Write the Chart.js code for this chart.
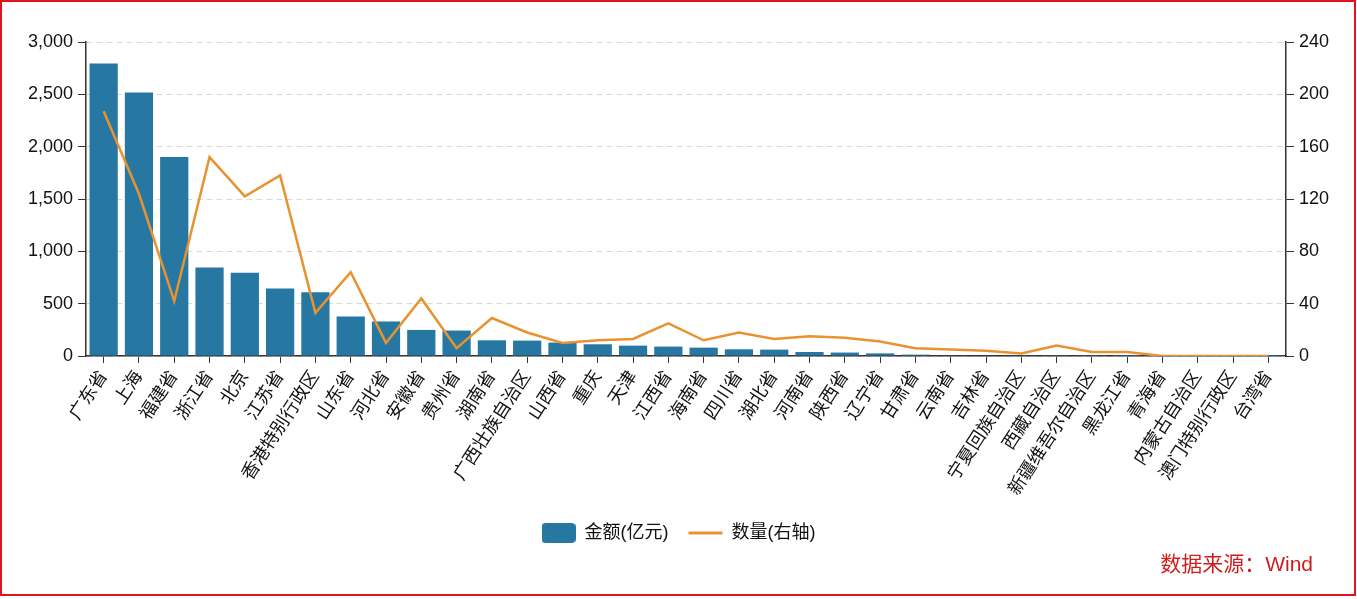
<!DOCTYPE html>
<html>
<head>
<meta charset="utf-8">
<script src="https://cdn.jsdelivr.net/npm/chart.js@4/dist/chart.umd.min.js"></script>
<style>
html,body{margin:0;padding:0;background:#fff;}
#wrap{position:relative;width:1357px;height:599px;overflow:hidden;}
#c{position:absolute;left:0;top:0;}
#frame{position:absolute;left:0;top:0;width:1356px;height:596px;box-sizing:border-box;border:2px solid #e0141c;pointer-events:none;}
#src{position:absolute;right:44px;top:547px;font-family:"Liberation Sans","Noto Sans CJK SC",sans-serif;font-size:21px;color:#cc1f1f;}
</style>
</head>
<body>
<div id="wrap">
<canvas id="c" width="1357" height="599"></canvas>
<div id="frame"></div>
<div id="src">数据来源：Wind</div>
</div>
<script>
const categories = ["广东省","上海","福建省","浙江省","北京","江苏省","香港特别行政区","山东省","河北省","安徽省","贵州省","湖南省","广西壮族自治区","山西省","重庆","天津","江西省","海南省","四川省","湖北省","河南省","陕西省","辽宁省","甘肃省","云南省","吉林省","宁夏回族自治区","西藏自治区","新疆维吾尔自治区","黑龙江省","青海省","内蒙古自治区","澳门特别行政区","台湾省"];
const amounts = [2795,2518,1902,846,795,645,610,377,329,249,243,150,147,128,112,99,90,80,64,61,38,33,25,13,6,5,3,2,2,1,1,0.5,0.3,0.2];
const counts = [187,124,42,152,122,138,33,64,10,44,6,29,18,10,12,13,25,12,18,13,15,14,11,6,5,4,2,8,3,3,0,0,0,0];
const leftTicks = [0,500,1000,1500,2000,2500,3000];
const rightTicks = [0,40,80,120,160,200,240];

const FONT = '"Liberation Sans","Noto Sans CJK SC",sans-serif';
const BAR = '#2777a3';
const LINE = '#e8932f';

// legend swatch for bars
const sw = document.createElement('canvas');
sw.width = 34; sw.height = 20;
(function(){const g=sw.getContext('2d');g.fillStyle=BAR;g.beginPath();
 const r=4,w=34,h=20;g.moveTo(r,0);g.lineTo(w-r,0);g.quadraticCurveTo(w,0,w,r);g.lineTo(w,h-r);g.quadraticCurveTo(w,h,w-r,h);g.lineTo(r,h);g.quadraticCurveTo(0,h,0,h-r);g.lineTo(0,r);g.quadraticCurveTo(0,0,r,0);g.fill();})();

Chart.defaults.font.family = FONT;
Chart.defaults.color = '#111';

new Chart(document.getElementById('c'), {
  data: {
    labels: categories,
    datasets: [
      {type:'line', label:'数量(右轴)', data: counts, yAxisID:'y1', borderColor: LINE, backgroundColor: LINE, borderWidth: 2.5, pointRadius: 0, tension: 0, order: 0},
      {type:'bar', label:'金额(亿元)', data: amounts, yAxisID:'y', backgroundColor: BAR, barPercentage: 1, categoryPercentage: 0.8, order: 1}
    ]
  },
  options: {
    responsive: false,
    animation: false,
    layout: {padding: {top: 42, left: 0, right: 0, bottom: 47}},
    plugins: {
      tooltip: {enabled:false},
      legend: {
        position: 'bottom',
        reverse: true,
        labels: {
          usePointStyle: true,
          pointStyleWidth: 34,
          padding: 20,
          font: {size: 18, family: FONT},
          color: '#111',
          generateLabels(chart){
            const items = Chart.defaults.plugins.legend.labels.generateLabels(chart);
            items.forEach(it=>{
              if (it.datasetIndex===1){ it.pointStyle = sw; }
              else { it.pointStyle='line'; it.lineWidth=3; it.strokeStyle=LINE; }
            });
            return items;
          }
        }
      }
    },
    scales: {
      x: {
        offset: true,
        grid: {offset:false, drawOnChartArea:false, drawTicks:true, tickLength:7, color:'#333', lineWidth:1},
        border: {display:true, color:'#333', width:1.5},
        ticks: {autoSkip:false, minRotation:57, maxRotation:57, padding:4, font:{size:18}, color:'#111'},
        afterFit(s){ s.height = 148; }
      },
      y: {
        position:'left', min:0, max:3000,
        afterBuildTicks(s){ s.ticks = leftTicks.map(v=>({value:v})); },
        grid: {color:'#d8d8d8', lineWidth:1, tickLength:8, tickColor:'#333', drawTicks:true},
        border: {display:true, color:'#333', width:1.5, dash:[6,4]},
        ticks: {padding:5, font:{size:18}, color:'#111', callback:v=>v.toLocaleString('en-US')},
        afterFit(s){ s.width = 86; }
      },
      y1: {
        position:'right', min:0, max:240,
        afterBuildTicks(s){ s.ticks = rightTicks.map(v=>({value:v})); },
        grid: {drawOnChartArea:false, tickLength:8, tickColor:'#333', color:'#333'},
        border: {display:true, color:'#333', width:1.5},
        ticks: {padding:5, font:{size:18}, color:'#111'},
        afterFit(s){ s.width = 71; }
      }
    }
  }
});
</script>
</body>
</html>
